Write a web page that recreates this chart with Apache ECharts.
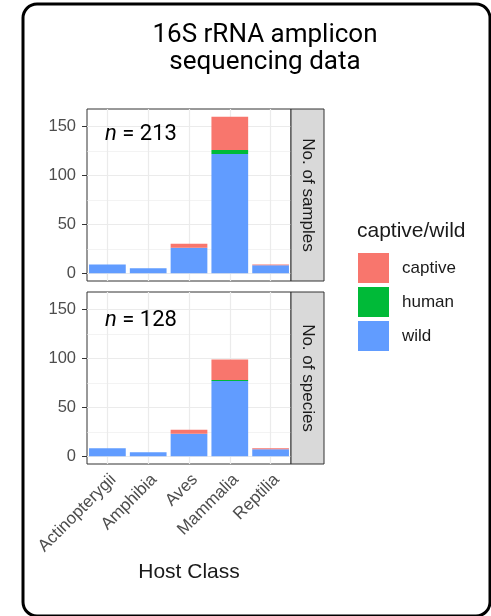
<!DOCTYPE html>
<html>
<head>
<meta charset="utf-8">
<script src="https://cdn.jsdelivr.net/npm/echarts@6/dist/echarts.min.js"></script>
<style>
  html, body { margin: 0; padding: 0; background: #ffffff; }
  #chart { width: 491px; height: 616px; }
</style>
</head>
<body>
<div id="chart"></div>
<script>
// Host classes on the x axis
const categories = ['Actinopterygii', 'Amphibia', 'Aves', 'Mammalia', 'Reptilia'];

// Number of samples per host class, split by captive/wild status
const samplesWild = [9, 5, 26, 122, 8];
const samplesHuman = [0, 0, 0, 4, 0];
const samplesCaptive = [0, 0, 4, 34, 1];

// Number of species per host class, split by captive/wild status
const speciesWild = [8, 4, 23, 77, 7];
const speciesHuman = [0, 0, 0, 1, 0];
const speciesCaptive = [0, 0, 4, 21, 1];

// Axis ticks and facet labels
const yTicks = [0, 50, 100, 150];
const yMinorTicks = [25, 75, 125];
const panelLabels = ['No. of samples', 'No. of species'];
const panelTotals = ['213', '128'];
const groupNames = ['captive', 'human', 'wild'];

const COLORS = { captive: '#F8766D', human: '#00BA38', wild: '#619CFF' };
const AXIS_FONT = '"Liberation Sans", Arial, sans-serif';
const TITLE_FONT = 'Roboto, "Liberation Sans", sans-serif';

// Panel geometry
const PANEL_LEFT = 87, PANEL_W = 204, PANEL_H = 172;
const PANEL_TOPS = [109, 292];
const STRIP_W = 33;

const chart = echarts.init(document.getElementById('chart'), null, { renderer: 'canvas' });

const grids = PANEL_TOPS.map(top => ({
  left: PANEL_LEFT, top: top, width: PANEL_W, height: PANEL_H,
  show: true, backgroundColor: '#ffffff', borderColor: '#333333', borderWidth: 1
}));

const xAxes = [0, 1].map(i => ({
  type: 'category', gridIndex: i, data: categories,
  axisLine: { show: false },
  axisTick: { show: i === 1, alignWithLabel: true, length: 5, lineStyle: { color: '#333333' } },
  axisLabel: {
    show: i === 1, rotate: 45, margin: 7, fontSize: 17, color: '#4d4d4d',
    fontFamily: AXIS_FONT, interval: 0, align: 'right', verticalAlign: 'top'
  },
  splitLine: { show: false },
  name: i === 1 ? 'Host Class' : '',
  nameLocation: 'middle', nameGap: 98,
  nameTextStyle: { fontSize: 21, color: '#1a1a1a', fontFamily: AXIS_FONT }
}));

const yAxes = [0, 1].map(i => ({
  type: 'value', gridIndex: i, min: -8, max: 168,
  axisLine: { show: false },
  axisTick: { show: true, length: 5, customValues: yTicks, lineStyle: { color: '#333333' } },
  axisLabel: {
    show: true, customValues: yTicks, margin: 11, fontSize: 16.5, color: '#4d4d4d',
    fontFamily: AXIS_FONT
  },
  splitLine: { show: false }
}));

// Panel gridlines (major and minor) drawn from the axis scales
function gridLineSeries(i) {
  const line = (w) => ({ color: '#ebebeb', width: w, type: 'solid' });
  const data = []
    .concat(yMinorTicks.map(v => ({ yAxis: v, lineStyle: line(0.6) })))
    .concat(yTicks.map(v => ({ yAxis: v, lineStyle: line(1.2) })))
    .concat(categories.map(c => ({ xAxis: c, lineStyle: line(1.2) })));
  return {
    type: 'line', xAxisIndex: i, yAxisIndex: i, data: [], z: 1, silent: true,
    markLine: {
      silent: true, symbol: 'none', animation: false, z: 1,
      label: { show: false }, emphasis: { disabled: true },
      data: data
    }
  };
}

function barSeries(i, name, values) {
  return {
    type: 'bar', name: name, xAxisIndex: i, yAxisIndex: i, stack: 'panel' + i,
    data: values, barCategoryGap: '10%', z: 10,
    itemStyle: { color: COLORS[name] },
    emphasis: { disabled: true }
  };
}

const panelData = [
  { wild: samplesWild, human: samplesHuman, captive: samplesCaptive },
  { wild: speciesWild, human: speciesHuman, captive: speciesCaptive }
];

const series = [];
panelData.forEach((d, i) => {
  series.push(gridLineSeries(i));
  series.push(barSeries(i, 'wild', d.wild));
  series.push(barSeries(i, 'human', d.human));
  series.push(barSeries(i, 'captive', d.captive));
});

// Facet strips, panel annotations, title and outer frame
const graphics = [];
PANEL_TOPS.forEach((top, i) => {
  graphics.push({
    type: 'rect', silent: true, z: 20,
    shape: { x: PANEL_LEFT + PANEL_W, y: top, width: STRIP_W, height: PANEL_H },
    style: { fill: '#d9d9d9', stroke: '#333333', lineWidth: 1 }
  });
  graphics.push({
    type: 'text', silent: true, z: 21,
    x: PANEL_LEFT + PANEL_W + STRIP_W / 2, y: top + PANEL_H / 2,
    rotation: -Math.PI / 2,
    style: {
      text: panelLabels[i], fill: '#1a1a1a', font: '17px ' + AXIS_FONT,
      align: 'center', verticalAlign: 'middle'
    }
  });
  graphics.push({
    type: 'text', silent: true, z: 21,
    x: 105, y: top + 14 + i * 3,
    style: {
      text: '{i|n} = ' + panelTotals[i], fill: '#000000',
      font: '22px ' + TITLE_FONT, verticalAlign: 'top',
      rich: { i: { fontStyle: 'italic', fontSize: 22, fontFamily: TITLE_FONT, fill: '#000000' } }
    }
  });
});

graphics.push({
  type: 'text', silent: true, x: 265, y: 22,
  style: {
    text: '16S rRNA amplicon\nsequencing data', fill: '#000000',
    font: '26px ' + TITLE_FONT, lineHeight: 27, align: 'center', verticalAlign: 'top'
  }
});

graphics.push({
  type: 'text', silent: true, x: 357, y: 221,
  style: {
    text: 'captive/wild', fill: '#1a1a1a', font: '21px ' + AXIS_FONT,
    verticalAlign: 'top'
  }
});

graphics.push({
  type: 'rect', silent: true, z: 100,
  shape: { x: 23, y: 4, width: 467, height: 612, r: 14 },
  style: { fill: 'none', stroke: '#000000', lineWidth: 3 }
});

chart.setOption({
  animation: false,
  backgroundColor: '#ffffff',
  grid: grids,
  xAxis: xAxes,
  yAxis: yAxes,
  legend: {
    data: groupNames, orient: 'vertical', left: 358, top: 253, padding: 0,
    icon: 'rect', itemWidth: 31, itemHeight: 30, itemGap: 4,
    selectedMode: false,
    textStyle: { fontSize: 17, color: '#1a1a1a', fontFamily: AXIS_FONT, padding: [0, 0, 0, 8] }
  },
  series: series,
  graphic: graphics
});
</script>
</body>
</html>
